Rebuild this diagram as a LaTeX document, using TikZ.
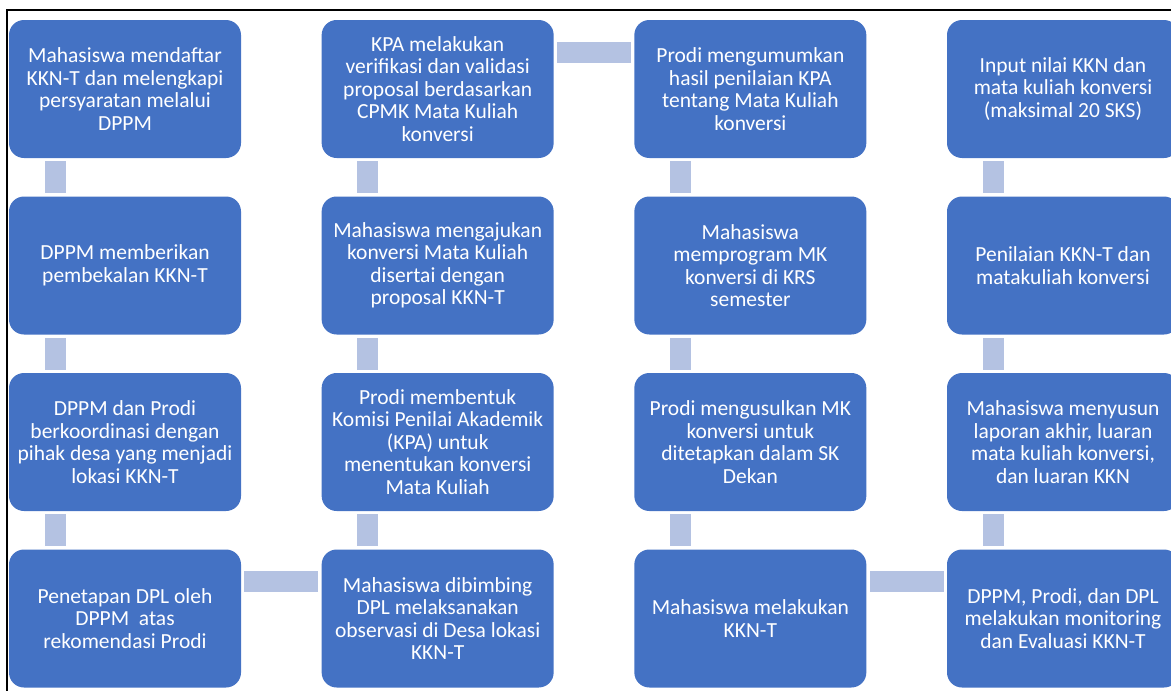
\documentclass[tikz,border=0pt]{standalone}
\usepackage{fontspec}
\setmainfont{Carlito}
\definecolor{boxblue}{RGB}{68,114,196}
\definecolor{linkblue}{RGB}{180,194,226}
\tikzset{
  stepbox/.style={rectangle, rounded corners=15pt, fill=boxblue, text=white,
    minimum width=232pt, minimum height=138pt, inner sep=0pt, align=center,
    font=\fontsize{21.5}{22.5}\selectfont},
  link/.style={fill=linkblue}
}

\begin{document}
\begin{tikzpicture}[x=1pt, y=-1pt]
  \useasboundingbox (0,0) rectangle (1171,691);
  \clip (0,0) rectangle (1171,691);
  \draw [line width=2.5pt] (7,691) -- (7,10) -- (1171,10);
  %
  \foreach \x/\y/\txt in {
    1/1/{Mahasiswa mendaftar\\KKN-T dan melengkapi\\persyaratan melalui\\DPPM},
    1/2/{DPPM memberikan\\pembekalan KKN-T},
    1/3/{DPPM dan Prodi\\berkoordinasi dengan\\pihak desa yang menjadi\\lokasi KKN-T},
    1/4/{Penetapan DPL oleh\\DPPM\ \ atas\\rekomendasi Prodi},
    2/1/{KPA melakukan\\verifikasi dan validasi\\proposal berdasarkan\\CPMK Mata Kuliah\\konversi},
    2/2/{Mahasiswa mengajukan\\konversi Mata Kuliah\\disertai dengan\\proposal KKN-T},
    2/3/{Prodi membentuk\\Komisi Penilai Akademik\\(KPA) untuk\\menentukan konversi\\Mata Kuliah},
    2/4/{Mahasiswa dibimbing\\DPL melaksanakan\\observasi di Desa lokasi\\KKN-T},
    3/1/{Prodi mengumumkan\\hasil penilaian KPA\\tentang Mata Kuliah\\konversi},
    3/2/{Mahasiswa\\memprogram MK\\konversi di KRS\\semester},
    3/3/{Prodi mengusulkan MK\\konversi untuk\\ditetapkan dalam SK\\Dekan},
    3/4/{Mahasiswa melakukan\\KKN-T},
    4/1/{Input nilai KKN dan\\mata kuliah konversi\\(maksimal 20 SKS)},
    4/2/{Penilaian KKN-T dan\\matakuliah konversi},
    4/3/{Mahasiswa menyusun\\laporan akhir, luaran\\mata kuliah konversi,\\dan luaran KKN},
    4/4/{DPPM, Prodi, dan DPL\\melakukan monitoring\\dan Evaluasi KKN-T}} {
    \node [stepbox] (b\x\y) at ({125+312.67*(\x-1)}, {89+176.5*(\y-1)}) {\txt};
  }
  %
  \foreach \x in {1,...,4} {
    \foreach \y in {1,...,3} {
      \pgfmathtruncatemacro{\yi}{\y + 1}
      \fill [link] ([xshift=36pt,yshift=-3pt]b\x\y.south west) rectangle ([xshift=57pt,yshift=3pt]b\x\yi.north west);
    }
  }
  \foreach \x/\y in {1/4,2/1,3/4} {
    \pgfmathtruncatemacro{\xi}{\x + 1}
    \fill [link] ([xshift=3pt,yshift=-22pt]b\x\y.north east) rectangle ([xshift=-3pt,yshift=-43pt]b\xi\y.north west);
  }
\end{tikzpicture}
\end{document}
